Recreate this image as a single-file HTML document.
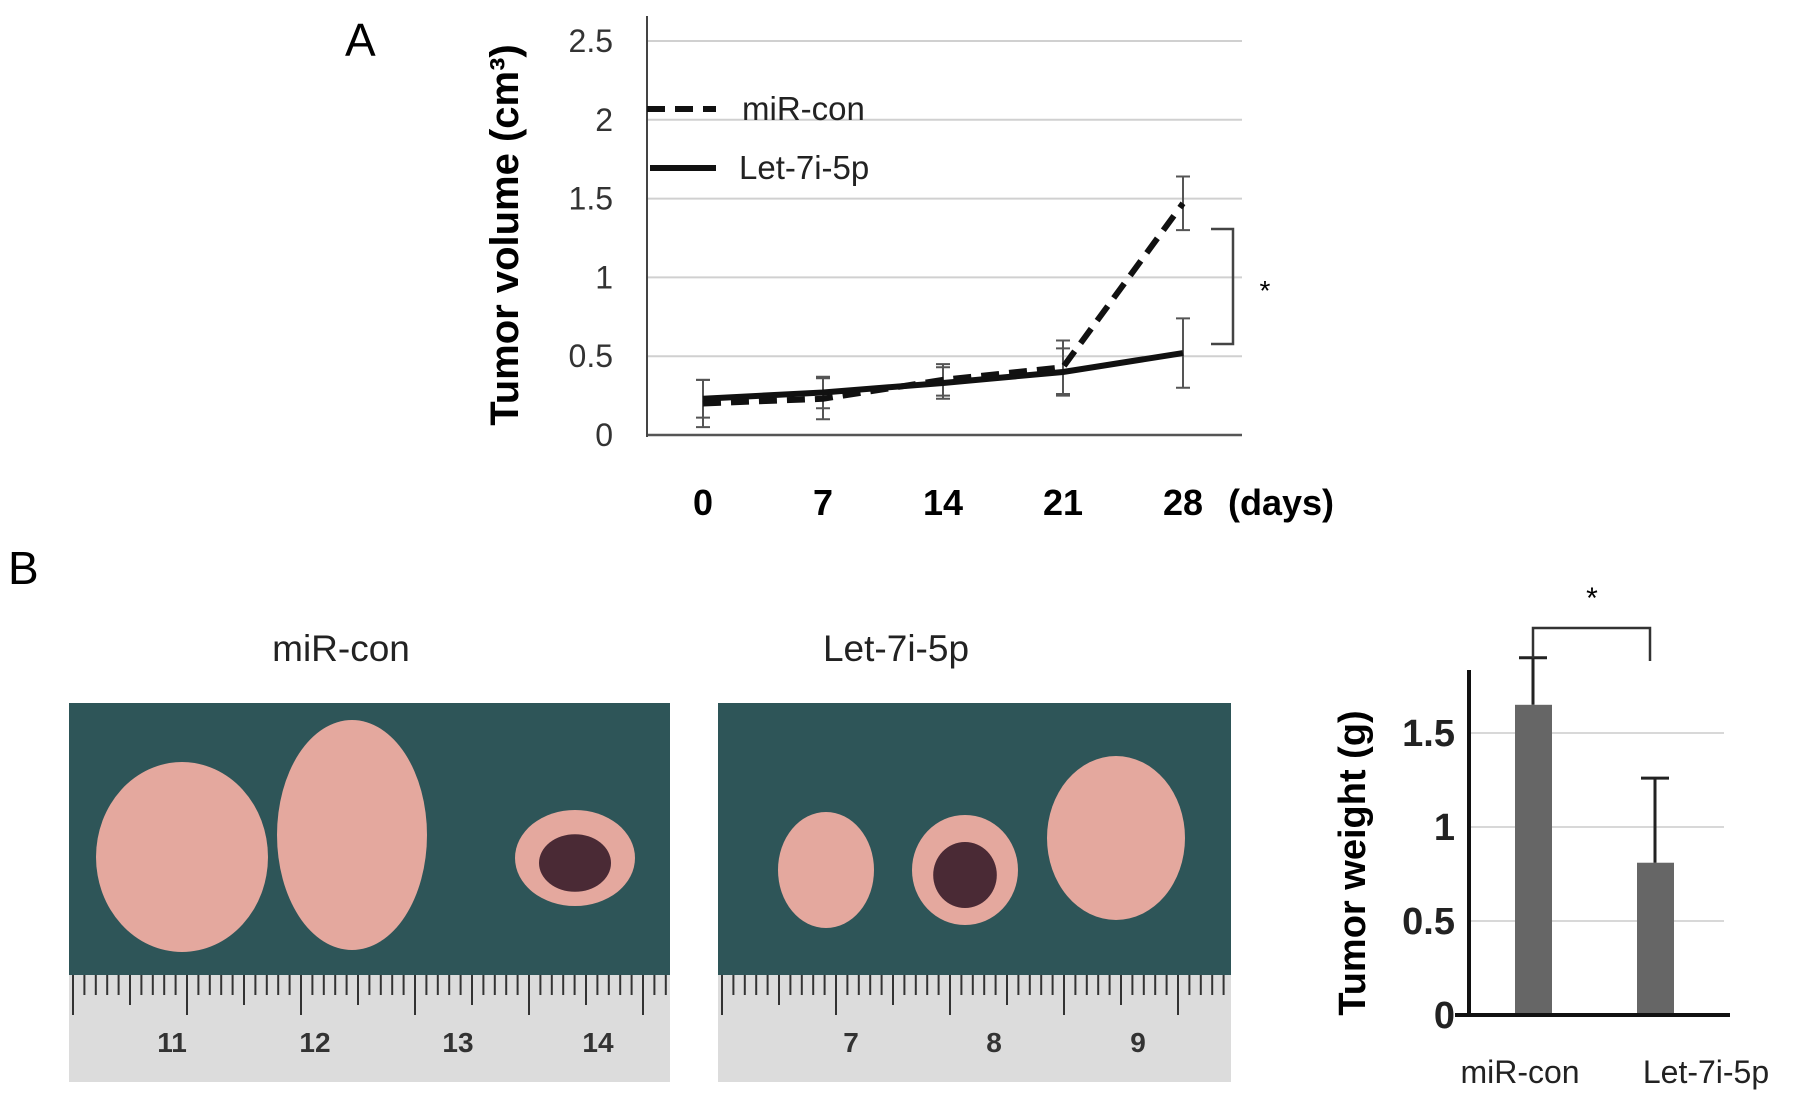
<!DOCTYPE html>
<html><head><meta charset="utf-8"><style>
body{margin:0;background:#fff;}
svg{display:block;font-family:"Liberation Sans",sans-serif;}
</style></head><body>
<svg width="1795" height="1097" viewBox="0 0 1795 1097">
<text x="345" y="56" font-size="46">A</text>
<text x="8" y="584" font-size="46">B</text>
<g id="lineChart"></g>
<g id="photos"></g>
<g id="barChart"></g>
</svg>
<script>
const NS="http://www.w3.org/2000/svg";
function mk(p,t,a,txt){const e=document.createElementNS(NS,t);for(const k in a)e.setAttribute(k,a[k]);if(txt!==undefined)e.textContent=txt;p.appendChild(e);return e;}

// ---- line chart data ----
const days=[0,7,14,21,28];
const yTicks=[0,0.5,1,1.5,2,2.5];
const yTickLabels=["0","0.5","1","1.5","2","2.5"];
const mirCon=[0.2,0.23,0.35,0.43,1.47];
const mirConErr=[0.15,0.13,0.1,0.17,0.17];
const let7=[0.23,0.27,0.33,0.4,0.52];
const let7Err=[0.12,0.1,0.1,0.15,0.22];

// ---- bar chart data ----
const barCats=["miR-con","Let-7i-5p"];
const barVals=[1.65,0.81];
const barErr=[0.25,0.45];
const barTicks=[0,0.5,1,1.5];
const barTickLabels=["0","0.5","1","1.5"];

(function(){
const g=document.getElementById('lineChart');
const X=d=>703+d*(1183-703)/28, Y=v=>435-v*157.6;
yTicks.forEach((t,i)=>{
  let l=mk(g,'line',{x1:647,x2:1242,y1:Y(t),y2:Y(t),stroke:i?'#d0d0d0':'#555','stroke-width':i?2:2.5});
  
  
  let tx=mk(g,'text',{x:613,y:Y(t)+11,'font-size':32,'text-anchor':'end',fill:'#333'},yTickLabels[i]);
  
  
});
let ax=mk(g,'line',{x1:647,x2:647,y1:16,y2:437,stroke:'#444','stroke-width':2});

days.forEach(d=>{
  let t=mk(g,'text',{x:X(d),y:515,'font-size':36,'font-weight':'bold','text-anchor':'middle'},String(d));
  
});
let dl=mk(g,'text',{x:1228,y:515,'font-size':36,'font-weight':'bold'},'(days)');

let yt=mk(g,'text',{x:0,y:0,'font-size':40,'font-weight':'bold','text-anchor':'middle',transform:'translate(518,235) rotate(-90)'},'Tumor volume (cm³)');

function errs(vals,er,off){vals.forEach((v,i)=>{const x=X(days[i])+off;
  let e=mk(g,'path',{d:`M${x},${Y(v+er[i])}V${Y(v-er[i])}M${x-7},${Y(v+er[i])}h14M${x-7},${Y(v-er[i])}h14`,stroke:'#555','stroke-width':2,fill:'none'});
  });}
errs(mirCon,mirConErr,0);errs(let7,let7Err,0);
const pts=a=>a.map((v,i)=>X(days[i])+','+Y(v)).join(' ');
let l1=mk(g,'polyline',{points:pts(let7),fill:'none',stroke:'#111','stroke-width':6});

let l2=mk(g,'polyline',{points:pts(mirCon),fill:'none',stroke:'#111','stroke-width':6,'stroke-dasharray':'18,10'});

let lg1=mk(g,'line',{x1:647,x2:716,y1:109,y2:109,stroke:'#111','stroke-width':6,'stroke-dasharray':'18,10'});

let lt1=mk(g,'text',{x:742,y:120,'font-size':33,fill:'#222'},'miR-con');

let lg2=mk(g,'line',{x1:650,x2:716,y1:168,y2:168,stroke:'#111','stroke-width':6});

let lt2=mk(g,'text',{x:739,y:179,'font-size':33,fill:'#222'},'Let-7i-5p');

let br=mk(g,'path',{d:'M1211,229H1233V344H1211',fill:'none',stroke:'#444','stroke-width':2.5});

let as=mk(g,'text',{x:1265,y:300,'font-size':28,'text-anchor':'middle'},'*');

})();

(function(){
const g=document.getElementById('photos');
function photo(x0,w,title,tcx,nums,tumors){
  let t=mk(g,'text',{x:tcx,y:661,'font-size':37,'text-anchor':'middle',fill:'#222'},title);
  
  let bg=mk(g,'rect',{x:x0,y:703,width:w,height:272,fill:'#2e5558'});
  
  let r=mk(g,'rect',{x:x0,y:975,width:w,height:107,fill:'#dcdcdc'});
  
  for(let i=0;4+i*11.4<w-3;i++){const x=x0+4+i*11.4;const h=i%10==0?40:(i%5==0?30:20);
    mk(g,'line',{x1:x,x2:x,y1:975,y2:975+h,stroke:'#333','stroke-width':2});}
  nums.forEach(n=>{let tx=mk(g,'text',{x:n[0],y:1052,'font-size':28,'font-weight':'bold',fill:'#333','text-anchor':'middle'},n[1]);
    });
  tumors.forEach(tm=>{let e=mk(g,'ellipse',{cx:tm[0],cy:tm[1],rx:tm[2],ry:tm[3],fill:'#e4a89e'});
    
    if(tm[4]){mk(g,'ellipse',{cx:tm[0],cy:tm[1]+5,rx:tm[2]*0.6,ry:tm[3]*0.6,fill:'#4a2a35'});}});
}
photo(69,601,'miR-con',341,[[172,'11'],[315,'12'],[458,'13'],[598,'14']],[[182,857,86,95],[352,835,75,115],[575,858,60,48,1]]);
photo(718,513,'Let-7i-5p',896,[[851,'7'],[994,'8'],[1138,'9']],[[826,870,48,58],[965,870,53,55,1],[1116,838,69,82]]);
})();

(function(){
const g=document.getElementById('barChart');
const Y=v=>1015-v*188;
barTicks.forEach((t,i)=>{
  if(i){let l=mk(g,'line',{x1:1470,x2:1724,y1:Y(t),y2:Y(t),stroke:'#d8d8d8','stroke-width':2});
  }
  let tx=mk(g,'text',{x:1455,y:Y(t)+13,'font-size':38,'font-weight':'bold','text-anchor':'end',fill:'#222'},barTickLabels[i]);
  
});
const cx=[1533,1655];
const lx=[1520,1706];
barVals.forEach((v,i)=>{
  let b=mk(g,'rect',{x:cx[i]-18,y:Y(v),width:37,height:Y(0)-Y(v),fill:'#666'});
  
  let e=mk(g,'path',{d:`M${cx[i]},${Y(v)}V${Y(v+barErr[i])}M${cx[i]-14},${Y(v+barErr[i])}h28`,stroke:'#222','stroke-width':3,fill:'none'});
  
  let t=mk(g,'text',{x:lx[i],y:1083,'font-size':32,'text-anchor':'middle',fill:'#222'},barCats[i]);
  
});
let ax=mk(g,'path',{d:'M1469,670V1015M1455,1015H1730',stroke:'#111','stroke-width':4,fill:'none'});

let yt=mk(g,'text',{x:0,y:0,'font-size':38,'font-weight':'bold','text-anchor':'middle',transform:'translate(1365,863) rotate(-90)'},'Tumor weight (g)');

let br=mk(g,'path',{d:'M1533,658V628H1650V661',stroke:'#333','stroke-width':2.5,fill:'none'});

let as=mk(g,'text',{x:1592,y:608,'font-size':30,'text-anchor':'middle'},'*');

})();
</script>
</body></html>
